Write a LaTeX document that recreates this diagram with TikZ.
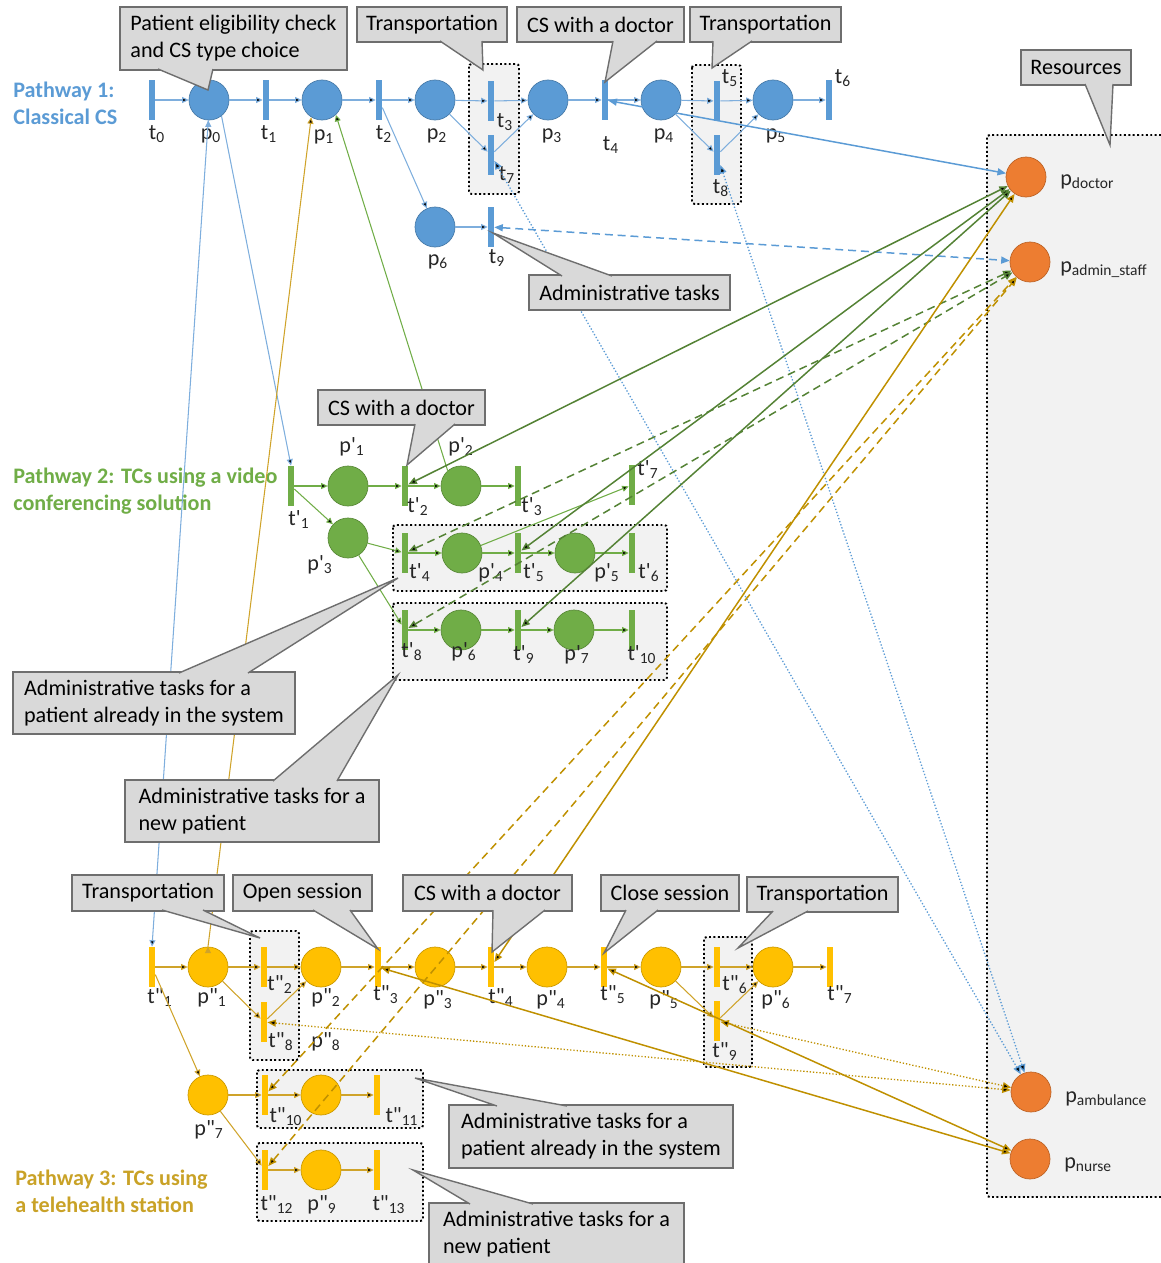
\documentclass[tikz,border=0pt]{standalone}
\usepackage{fontspec}
\setmainfont{Carlito}[Ligatures=TeXOff]
\usetikzlibrary{arrows.meta}

\definecolor{pwblue}{HTML}{5B9BD5}
\definecolor{arcblue}{HTML}{7EAEDD}
\definecolor{pwgreen}{HTML}{70AD47}
\definecolor{resgreen}{HTML}{548235}
\definecolor{pwgold}{HTML}{FFC000}
\definecolor{arcgold}{HTML}{CFA32A}
\definecolor{resgold}{HTML}{BF9000}
\definecolor{txtgold}{HTML}{C9A227}
\definecolor{pworange}{HTML}{ED7D31}
\definecolor{calfill}{HTML}{D9D9D9}
\definecolor{calline}{HTML}{6E6E6E}
\definecolor{grpfill}{HTML}{F2F2F2}

% pointer of a callout: base point, tip, base point
\newcommand{\callptr}[3]{%
  \fill[calfill] #1 -- #2 -- #3 -- cycle;
  \draw[calline,line width=0.8pt] #1 -- #2 -- #3;}

\begin{document}
\begin{tikzpicture}[x=0.2mm,y=-0.2mm,
  every node/.style={font=\fontsize{12.6}{15.4}\selectfont},
  plc/.style={circle,minimum size=8mm,inner sep=0pt,draw=#1!80!black,line width=0.4pt,fill=#1},
  trs/.style={rectangle,minimum width=1.2mm,minimum height=8mm,inner sep=0pt,fill=#1},
  flow/.style={draw=#1,line width=0.6pt,-{Triangle[length=1.3mm,width=1.2mm]}},
  resarc/.style={draw=#1,line width=0.85pt,{Triangle[length=1.7mm,width=1.4mm]}-{Triangle[length=1.7mm,width=1.4mm]}},
  resdash/.style={dash pattern=on 4.5pt off 2.8pt},
  resdot/.style={line width=0.75pt,dash pattern=on 0.75pt off 1.1pt},
  lbl/.style={anchor=base,inner sep=0pt,text=black!85},
  rlbl/.style={anchor=base west,inner sep=0pt,text=black!85},
  title/.style={anchor=west,align=left,inner sep=0pt,font=\fontsize{12.6}{15.4}\selectfont\bfseries},
  grp/.style={draw=black,fill=grpfill,line width=1.1pt,dash pattern=on 1.1pt off 1.4pt,rounded corners=1.5pt},
  callbox/.style={draw=calline,fill=calfill,line width=0.8pt,align=left,inner sep=0pt}]
\useasboundingbox (0,0) rectangle (1161,1263);

% dotted groups and resource area
\draw[grp] (469,64) rectangle (519,194);
\draw[grp] (692,65) rectangle (741,204);
\draw[grp] (393,525) rectangle (667,591);
\draw[grp] (393,603) rectangle (667,680);
\draw[grp] (250,931) rectangle (299,1060);
\draw[grp] (704,937) rectangle (752,1067);
\draw[grp] (257,1070) rectangle (423,1128);
\draw[grp] (257,1143) rectangle (423,1221);
\draw[grp] (987,135) rectangle (1175,1197);

% pathway 1
\node[trs=pwblue] (t0) at (152,100) {};
\node[plc=pwblue] (p0) at (209,100) {};
\node[trs=pwblue] (t1) at (266,100) {};
\node[plc=pwblue] (p1) at (322,100) {};
\node[trs=pwblue] (t2) at (379,100) {};
\node[plc=pwblue] (p2) at (435,100) {};
\node[trs=pwblue] (t3) at (491,101) {};
\node[trs=pwblue] (t7) at (491,155) {};
\node[plc=pwblue] (p3) at (548,100) {};
\node[trs=pwblue] (t4) at (605,100) {};
\node[plc=pwblue] (p4) at (661,100) {};
\node[trs=pwblue] (t5) at (717,101) {};
\node[trs=pwblue] (t8) at (717,155) {};
\node[plc=pwblue] (p5) at (773,100) {};
\node[trs=pwblue] (t6) at (829,100) {};
\node[plc=pwblue] (p6) at (435,227) {};
\node[trs=pwblue] (t9) at (491,227) {};

% pathway 2
\node[trs=pwgreen] (tp1) at (291,486) {};
\node[plc=pwgreen] (pp1) at (348,486) {};
\node[trs=pwgreen] (tp2) at (405,486) {};
\node[plc=pwgreen] (pp2) at (461,486) {};
\node[trs=pwgreen] (tp3) at (518,486) {};
\node[trs=pwgreen] (tp7) at (632,485) {};
\node[plc=pwgreen] (pp3) at (348,538) {};
\node[trs=pwgreen] (tp4) at (405,553) {};
\node[plc=pwgreen] (pp4) at (462,553) {};
\node[trs=pwgreen] (tp5) at (518,553) {};
\node[plc=pwgreen] (pp5) at (575,553) {};
\node[trs=pwgreen] (tp6) at (632,553) {};
\node[trs=pwgreen] (tp8) at (405,630) {};
\node[plc=pwgreen] (pp6) at (461,630) {};
\node[trs=pwgreen] (tp9) at (518,630) {};
\node[plc=pwgreen] (pp7) at (574,630) {};
\node[trs=pwgreen] (tp10) at (632,630) {};

% pathway 3
\node[trs=pwgold] (tq1) at (152,967) {};
\node[plc=pwgold] (pq1) at (208,967) {};
\node[trs=pwgold] (tq2) at (264,967) {};
\node[trs=pwgold] (tq8) at (264,1022) {};
\node[plc=pwgold] (pq2) at (321,967) {};
\node[trs=pwgold] (tq3) at (378,967) {};
\node[plc=pwgold] (pq3) at (435,967) {};
\node[trs=pwgold] (tq4) at (491,967) {};
\node[plc=pwgold] (pq4) at (547,967) {};
\node[trs=pwgold] (tq5) at (604,967) {};
\node[plc=pwgold] (pq5) at (661,967) {};
\node[trs=pwgold] (tq6) at (717,967) {};
\node[trs=pwgold] (tq9) at (717,1021) {};
\node[plc=pwgold] (pq6) at (773,967) {};
\node[trs=pwgold] (tq7) at (830,967) {};
\node[plc=pwgold] (pq7) at (208,1095) {};
\node[trs=pwgold] (tq10) at (265,1095) {};
\node[plc=pwgold] (pq8) at (321,1095) {};
\node[trs=pwgold] (tq11) at (377,1095) {};
\node[trs=pwgold] (tq12) at (265,1170) {};
\node[plc=pwgold] (pq9) at (321,1170) {};
\node[trs=pwgold] (tq13) at (377,1170) {};

% resources
\node[plc=pworange] (pdoc) at (1026,177) {};
\node[plc=pworange] (padm) at (1030,262) {};
\node[plc=pworange] (pamb) at (1031,1092) {};
\node[plc=pworange] (pnur) at (1030,1159) {};

% labels
\node[lbl] (lt0) at (157,139) {t\textsubscript{0}};
\node[lbl] (lp0) at (211,139) {p\textsubscript{0}};
\node[lbl] (lt1) at (269,139) {t\textsubscript{1}};
\node[lbl] (lp1) at (324,140) {p\textsubscript{1}};
\node[lbl] (lt2) at (384,139) {t\textsubscript{2}};
\node[lbl] (lp2) at (437,139) {p\textsubscript{2}};
\node[lbl] (lt3) at (505,127) {t\textsubscript{3}};
\node[lbl] (lp3) at (552,139) {p\textsubscript{3}};
\node[lbl] (lt4) at (611,150) {t\textsubscript{4}};
\node[lbl] (lp4) at (664,139) {p\textsubscript{4}};
\node[lbl] (lt5) at (730,83) {t\textsubscript{5}};
\node[lbl] (lt7) at (507,180) {t\textsubscript{7}};
\node[lbl] (lp5) at (776,139) {p\textsubscript{5}};
\node[lbl] (lt6) at (843,83) {t\textsubscript{6}};
\node[lbl] (lt8) at (721,193) {t\textsubscript{8}};
\node[lbl] (lp6) at (438,265) {p\textsubscript{6}};
\node[lbl] (lt9) at (497,263) {t\textsubscript{9}};

\node[lbl] (lpp1) at (352,452) {p'\textsubscript{1}};
\node[lbl] (ltp1) at (299,525) {t'\textsubscript{1}};
\node[lbl] (ltp2) at (418,512) {t'\textsubscript{2}};
\node[lbl] (lpp2) at (461,452) {p'\textsubscript{2}};
\node[lbl] (ltp3) at (532,512) {t'\textsubscript{3}};
\node[lbl] (ltp7) at (648,475) {t'\textsubscript{7}};
\node[lbl] (lpp3) at (320,570) {p'\textsubscript{3}};
\node[lbl] (ltp4) at (420,578) {t'\textsubscript{4}};
\node[lbl] (lpp4) at (491,578) {p'\textsubscript{4}};
\node[lbl] (ltp5) at (534,578) {t'\textsubscript{5}};
\node[lbl] (lpp5) at (607,578) {p'\textsubscript{5}};
\node[lbl] (ltp6) at (649,578) {t'\textsubscript{6}};
\node[lbl] (ltp8) at (412,657) {t'\textsubscript{8}};
\node[lbl] (lpp6) at (464,657) {p'\textsubscript{6}};
\node[lbl] (ltp9) at (524,660) {t'\textsubscript{9}};
\node[lbl] (lpp7) at (577,660) {p'\textsubscript{7}};
\node[lbl] (ltp10) at (642,660) {t'\textsubscript{10}};

\node[lbl] (ltq1) at (160,1003) {t"\textsubscript{1}};
\node[lbl] (lpq1) at (212,1003) {p"\textsubscript{1}};
\node[lbl] (ltq2) at (280,990) {t"\textsubscript{2}};
\node[lbl] (ltq8) at (281,1047) {t"\textsubscript{8}};
\node[lbl] (lpq2) at (326,1003) {p"\textsubscript{2}};
\node[lbl] (lpq8) at (326,1047) {p"\textsubscript{8}};
\node[lbl] (ltq3) at (386,1000) {t"\textsubscript{3}};
\node[lbl] (lpq3) at (438,1005) {p"\textsubscript{3}};
\node[lbl] (ltq4) at (501,1003) {t"\textsubscript{4}};
\node[lbl] (lpq4) at (551,1005) {p"\textsubscript{4}};
\node[lbl] (ltq5) at (613,1000) {t"\textsubscript{5}};
\node[lbl] (lpq5) at (664,1005) {p"\textsubscript{5}};
\node[lbl] (ltq6) at (735,990) {t"\textsubscript{6}};
\node[lbl] (ltq9) at (725,1057) {t"\textsubscript{9}};
\node[lbl] (lpq6) at (776,1005) {p"\textsubscript{6}};
\node[lbl] (ltq7) at (840,1000) {t"\textsubscript{7}};
\node[lbl] (lpq7) at (209,1135) {p"\textsubscript{7}};
\node[lbl] (ltq10) at (286,1122) {t"\textsubscript{10}};
\node[lbl] (ltq11) at (402,1122) {t"\textsubscript{11}};
\node[lbl] (ltq12) at (277,1210) {t"\textsubscript{12}};
\node[lbl] (lpq9) at (322,1210) {p"\textsubscript{9}};
\node[lbl] (ltq13) at (389,1210) {t"\textsubscript{13}};

\node[rlbl] (lpdoc) at (1060,185) {p\textsubscript{doctor}};
\node[rlbl] (lpadm) at (1060,272) {p\textsubscript{admin\_staff}};
\node[rlbl] (lpamb) at (1065,1102) {p\textsubscript{ambulance}};
\node[rlbl] (lpnur) at (1064,1168) {p\textsubscript{nurse}};

\node[title,text=pwblue] (path1) at (13,103) {Pathway 1:\\Classical CS};
\node[title,text=pwgreen] (path2) at (13,491) {Pathway 2: TCs using a video\\conferencing solution};
\node[title,text=txtgold] (path3) at (15,1191) {Pathway 3: TCs using\\a telehealth station};

% arcs inside the pathways
\draw[flow=arcblue] (t0) edge (p0) (p0) edge (t1) (t1) edge (p1) (p1) edge (t2)
  (t2) edge (p2) (t2) edge (p6) (p2) edge (t3) (p2) edge (t7) (t3) edge (p3)
  (t7) edge (p3) (p3) edge (t4) (t4) edge (p4) (p4) edge (t5) (p4) edge (t8)
  (t5) edge (p5) (t8) edge (p5) (p5) edge (t6) (p6) edge (t9)
  (p0.-52) edge (tp1.north) (p0.-92) edge (tq1.north);
\draw[flow=pwgreen] (tp1) edge (pp1) (tp1) edge (pp3) (pp1) edge (tp2) (tp2) edge (pp2)
  (pp2) edge (tp3) (pp3) edge (tp4) (pp3) edge (tp8) (tp4) edge (pp4)
  (pp4) edge (tp5) (pp4) edge (tp7) (tp5) edge (pp5) (pp5) edge (tp6)
  (tp8) edge (pp6) (pp6) edge (tp9) (tp9) edge (pp7) (pp7) edge (tp10)
  (pp2.131) edge (p1.-47);
\draw[flow=arcgold] (tq1) edge (pq1) (tq1) edge (pq7) (pq1) edge (tq2) (pq1) edge (tq8)
  (tq2) edge (pq2) (tq8) edge (pq2) (pq2) edge (tq3) (tq3) edge (pq3)
  (pq3) edge (tq4) (tq4) edge (pq4) (pq4) edge (tq5) (tq5) edge (pq5)
  (pq5) edge (tq6) (pq5) edge (tq9) (tq6) edge (pq6) (tq9) edge (pq6)
  (pq6) edge (tq7) (pq7) edge (tq10) (pq7) edge (tq12) (tq10) edge (pq8)
  (pq8) edge (tq11) (tq12) edge (pq9) (pq9) edge (tq13)
  (pq1.north) edge (p1.-122);

% arcs to the resources
\draw[resarc=pwblue] (t4) -- (pdoc);
\draw[resarc=pwblue,resdash] (t9) -- (padm);
\draw[resarc=pwblue,resdot] (t7) edge (pamb) (t8) edge (pamb);
\draw[resarc=resgreen] (tp2) edge (pdoc) (tp5) edge (pdoc) (tp9) edge (pdoc);
\draw[resarc=resgreen,resdash] (tp4) edge (padm) (tp8) edge (padm);
\draw[resarc=resgold] (tq4) edge (pdoc) (tq3) edge (pnur) (tq5) edge (pnur);
\draw[resarc=resgold,resdash] (tq10) edge (padm) (tq12) edge (padm);
\draw[resarc=resgold,resdot] (tq8) edge (pamb) (tq9) edge (pamb);

% callouts
\node[callbox,minimum width=45.4mm,minimum height=12.6mm] (cElig) at (233.5,38.5) {Patient eligibility check\\and CS type choice};
\callptr{(158,69)}{(208,90)}{(213,69)}
\node[callbox,minimum width=30mm,minimum height=7mm] (cTrans1) at (432,24.5) {Transportation};
\callptr{(440,41)}{(483,70)}{(482,41)}
\node[callbox,minimum width=33.4mm,minimum height=7mm] (cDoc1) at (600.5,24.5) {CS with a doctor};
\callptr{(613,41)}{(605,82)}{(657,41)}
\node[callbox,minimum width=30.2mm,minimum height=7mm] (cTrans2) at (765.5,24.5) {Transportation};
\callptr{(713,41)}{(712,68)}{(752,41)}
\node[callbox,minimum width=22mm,minimum height=7mm] (cRes) at (1076,67.5) {Resources};
\callptr{(1085,84)}{(1110,145)}{(1113,84)}
\node[callbox,minimum width=40.2mm,minimum height=7mm] (cAdm1) at (629.5,292.5) {Administrative tasks};
\callptr{(562,276)}{(493,233)}{(612,276)}
\node[callbox,minimum width=33.4mm,minimum height=7mm] (cDoc2) at (401.5,407.5) {CS with a doctor};
\callptr{(415,424)}{(407,465)}{(455,424)}
\node[callbox,minimum width=56.4mm,minimum height=12.4mm] (cOld2) at (154,703) {Administrative tasks for a\\patient already in the system};
\callptr{(179,673)}{(398,578)}{(248,673)}
\node[callbox,minimum width=50.8mm,minimum height=12.4mm] (cNew2) at (252,811) {Administrative tasks for a\\new patient};
\callptr{(273,781)}{(398,675)}{(337,781)}
\node[callbox,minimum width=30.4mm,minimum height=7.2mm] (cTrans3) at (148,893) {Transportation};
\callptr{(162,910)}{(260,938)}{(203,910)}
\node[callbox,minimum width=27.8mm,minimum height=7.2mm] (cOpen) at (302.5,893) {Open session};
\callptr{(313,910)}{(378,949)}{(350,910)}
\node[callbox,minimum width=33.8mm,minimum height=7.2mm] (cDoc3) at (487.5,893) {CS with a doctor};
\callptr{(493,910)}{(492,952)}{(545,910)}
\node[callbox,minimum width=27.6mm,minimum height=7.2mm] (cClose) at (670,893) {Close session};
\callptr{(626,910)}{(604,953)}{(658,910)}
\node[callbox,minimum width=30.2mm,minimum height=7mm] (cTrans4) at (822.5,894.5) {Transportation};
\callptr{(773,911)}{(738,948)}{(808,911)}
\node[callbox,minimum width=56.8mm,minimum height=12.6mm] (cOld3) at (591,1136.5) {Administrative tasks for a\\patient already in the system};
\callptr{(497,1106)}{(415,1078)}{(567,1106)}
\node[callbox,minimum width=51mm,minimum height=12.6mm] (cNew3) at (556.5,1234.5) {Administrative tasks for a\\new patient};
\callptr{(470,1204)}{(413,1170)}{(533,1204)}
\end{tikzpicture}
\end{document}
